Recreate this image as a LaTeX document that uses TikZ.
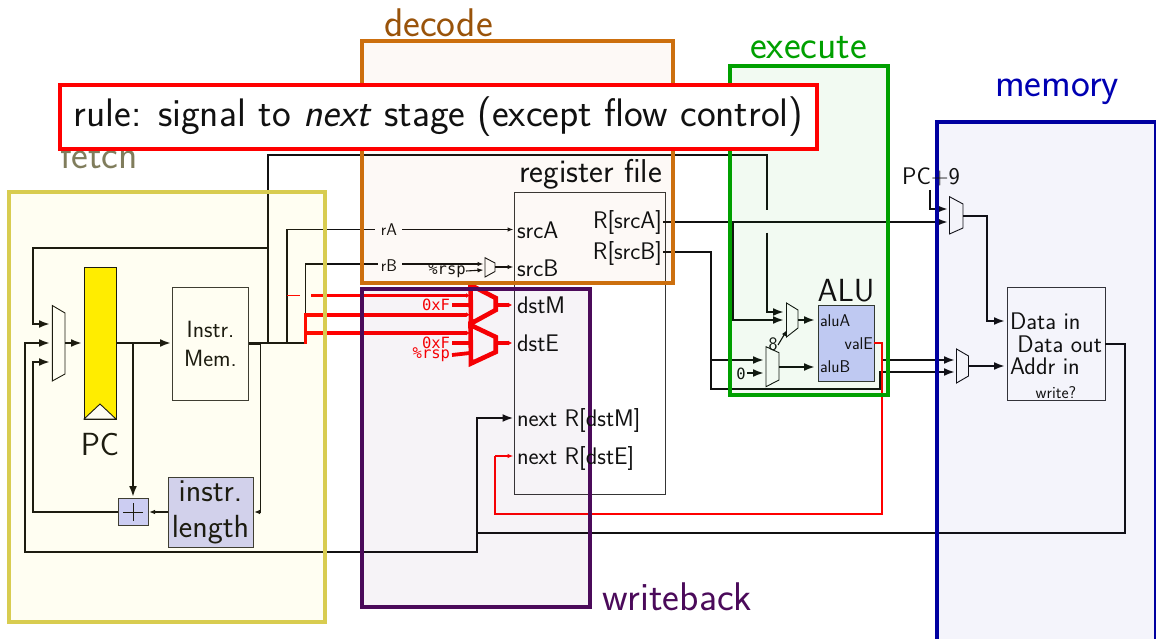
\documentclass[tikz,border=0pt]{standalone}
\usepackage{fontspec}
\newfontfamily\monof{DejaVu Sans Mono}
\usetikzlibrary{arrows.meta}
\definecolor{fetchc}{HTML}{D8CC50}
\definecolor{decodec}{HTML}{CC6F0E}
\definecolor{execc}{HTML}{00A000}
\definecolor{memc}{HTML}{0000A0}
\definecolor{wbc}{HTML}{4B0A5A}
\definecolor{blk}{HTML}{111111}
\definecolor{alufill}{HTML}{CACCFF}
\definecolor{lenfill}{HTML}{D0D0F8}
\tikzset{
  every node/.style={font=\sffamily, text=blk, inner sep=0pt, outer sep=0pt},
  wire/.style={draw=blk, line width=2.1pt, line join=miter},
  thin wire/.style={draw=blk, line width=1.1pt, line join=miter},
  arr/.style={-{Latex[length=11pt,width=8pt]}},
  sarr/.style={-{Latex[length=6pt,width=4.5pt]}},
  redthick/.style={draw=red, line width=3.8pt, line join=miter},
  redthin/.style={draw=red, line width=2pt, line join=miter},
  muxshape/.style={draw=blk, line width=0.9pt, fill=white, line join=miter},
  redmux/.style={draw=red, line width=4.6pt, line join=miter},
  block/.style={draw=blk!85, line width=0.9pt, anchor=north west},
  stagebox/.style={line width=4pt, line join=miter},
  f12/.style={font=\sffamily\fontsize{17}{19}\selectfont},
  f20/.style={font=\sffamily\fontsize{24}{28}\selectfont},
  f17/.style={font=\sffamily\fontsize{19}{21}\selectfont},
  f30/.style={font=\sffamily\fontsize{32}{36}\selectfont},
  fstage/.style={font=\sffamily\fontsize{40}{44}\selectfont},
  mono/.style={font=\monof\fontsize{15.5}{17}\selectfont},
}
\begin{document}
\begin{tikzpicture}[x=1pt,y=-1pt]
\useasboundingbox (0,0) rectangle (1156,639);
% blocks
\fill[yellow!95!orange] (84,267) rectangle (116,419);
\draw[blk,line width=.9pt,fill=white] (84,419) -- (100,404) -- (116,419) -- cycle;
\draw[blk,line width=.9pt] (84,267) rectangle (116,419);
\node (pcbox) at (100,343) {};
\node[f30] (pclabel) at (100,445) {PC};
\node[block,minimum width=76pt,minimum height=113pt,align=center,font=\sffamily\fontsize{23.5}{29}\selectfont] (imem) at (172.5,287) {Instr.\\Mem.};
\node[block,fill=lenfill,minimum width=85pt,minimum height=70pt,align=center,font=\sffamily\fontsize{32}{37}\selectfont] (ilen) at (168,477) {instr.\\[-1pt]length};
\node[block,fill=alufill,minimum width=30pt,minimum height=27pt] (adder) at (118,498) {};
\draw[blk,line width=.8pt] (123,512) -- (143,512) (133,503) -- (133,521);
\node[block,minimum width=151pt,minimum height=302pt] (regs) at (514,192) {};
\node[block,fill=alufill,minimum width=56pt,minimum height=75.5pt] (alu) at (818,305.5) {};
\node[block,minimum width=98pt,minimum height=113pt] (dmem) at (1007,287) {};
% multiplexers
\draw[muxshape] (52.3,305.5) -- (65,313) -- (65,374) -- (52.3,381) -- cycle;
\draw[muxshape] (485,257.7) -- (495,263) -- (495,271.5) -- (485,277) -- cycle;
\draw[muxshape] (786.5,303) -- (798,310) -- (798,328) -- (786.5,337) -- cycle;
\draw[muxshape] (766,346.7) -- (779,352.7) -- (779,380) -- (766,386.7) -- cycle;
\draw[muxshape] (949.5,196.7) -- (963,204) -- (963,228) -- (949.5,234) -- cycle;
\draw[muxshape] (956.5,349) -- (968.5,356) -- (968.5,376) -- (956.5,383) -- cycle;
% pins and bends
\coordinate (mA) at (50,324); \coordinate (mB) at (50,343); \coordinate (mC) at (50,362);
\coordinate (mO) at (65,343); \coordinate (pcI) at (82,343); \coordinate (pcO) at (116,343);
\coordinate (imI) at (171,343); \coordinate (imO) at (248.5,343);
\coordinate (j133) at (133,343); \coordinate (addT) at (133,497);
\coordinate (addL) at (118,512); \coordinate (addR) at (149,512); \coordinate (lenL) at (168,512);
\coordinate (lenR) at (254,512); \coordinate (j260) at (260.5,343);
\coordinate (j268) at (268,343); \coordinate (j287) at (287,343); \coordinate (j305) at (305.5,343);
\coordinate (srcAp) at (513.5,229.5); \coordinate (srcBp) at (513.5,267);
\coordinate (outAp) at (663,222); \coordinate (outBp) at (663,252);
\coordinate (nextM) at (513.5,418); \coordinate (nextE) at (513.5,456);
\coordinate (aluMa) at (784,312); \coordinate (aluMb) at (784,320);
\coordinate (aluMo) at (798,320); \coordinate (aluA) at (815,320);
\coordinate (bMa) at (764,360); \coordinate (bMb) at (764,373); \coordinate (bMo) at (779,367); \coordinate (aluB) at (815,367);
\coordinate (m1a) at (948,209); \coordinate (m1b) at (948,222); \coordinate (m1o) at (963,216);
\coordinate (m2a) at (955,360); \coordinate (m2b) at (955,372); \coordinate (m2o) at (968.5,366);
\coordinate (dIn) at (1005,321); \coordinate (aIn) at (1005,366); \coordinate (dOut) at (1105,344);
% black wires, fetch
\draw[wire] (j268) -- (268,155) -- (767,155) -- (767,210.5);
\draw[wire,arr] (767,232.5) |- (aluMa);
\draw[wire,arr] (268,248) -- (33,248) |- (mA);
\draw[wire,arr] (dOut) -| (1125,533) -- (477,533) -- (477,552) -- (25,552) |- (mB);
\draw[wire,arr] (addL) -| (33,430) |- (mC);
\draw[wire,arr] (mO) -- (pcI);
\draw[wire,arr] (pcO) -- (imI);
\draw[wire,arr] (j133) -- (addT);
\draw[draw=blk,line width=3pt] (imO) -- (260,343);
\draw[wire] (260,343) -- (j268);
\draw[thin wire,sarr] (j260) |- (lenR);
\draw[thin wire,sarr] (lenL) -- (addR);
\draw[thin wire] (j268) -- (j305);
% decode wires
\node[f12] (rA) at (389,229.5) {rA};
\node[f12] (rB) at (389,266) {rB};
\node[mono] (rsp) at (447,271) {\%rsp};
\draw[thin wire] (j287) |- (375,229.5);
\draw[thin wire,sarr] (402,229.5) -- (srcAp);
\draw[thin wire] (j305) |- (378,264);
\draw[thin wire,sarr] (402,264) -- (483.5,264);
\draw[thin wire,sarr] (466,271) -- (483.5,270);
\draw[thin wire,sarr] (495,267) -- (srcBp);
% red
\draw[redthin,line width=1pt] (287,295.5) -- (300,295.5);
\draw[redthick,-{Latex[length=4pt,width=5pt]}] (311,295.5) -- (470,295.5);
\draw[redthick,-{Latex[length=4pt,width=5pt]}] (305.5,344) -- (305.5,314.7) -- (470,314.7);
\draw[redthick,-{Latex[length=4pt,width=5pt]}] (305.5,333) -- (470,333);
\draw[redthick] (452,305) -- (470,305);
\draw[redthick] (452,343) -- (470,343);
\draw[redthick] (452,355) -- (470,353);
\draw[redmux] (470.5,285) -- (495.7,298) -- (495.7,310) -- (471,323.5) -- cycle;
\draw[redmux] (470.5,325) -- (495.7,337) -- (495.7,352) -- (471,363.5) -- cycle;
\draw[redthick,-{Latex[length=4pt,width=5pt]}] (495.7,305) -- (512,305);
\draw[redthick,-{Latex[length=4pt,width=5pt]}] (495.7,343) -- (512,343);
\node[mono,text=red,anchor=east] (f1) at (450,305) {0xF};
\node[mono,text=red,anchor=east] (f2) at (450,342.5) {0xF};
\node[mono,text=red,anchor=east] (rsp2) at (450,355) {\%rsp};
% execute and memory wires
\draw[wire,arr] (outAp) -- (m1b);
\draw[wire,arr] (733,222) |- (aluMb);
\draw[wire,arr] (outBp) -| (711,360) -- (bMa);
\draw[wire,arr] (711,360) |- (880,389) |- (m2b);
\draw[wire,arr] (882,360) -- (m2a);
\draw[wire,arr] (aluMo) -- (aluA);
\draw[wire,arr] (bMo) -- (aluB);
\node[mono] (zero) at (741,374) {0};
\draw[wire,arr] (747,373) -- (bMb);
\node[f17] (eight) at (773,344) {8};
\draw[thin wire,sarr] (778,345) -- (787,330);
\draw[redthin] (874,343) -| (882,514) -| (495,456);
\draw[redthin,sarr] (495,456) -- (nextE);
\draw[wire,arr] (477,533) |- (nextM);
\draw[wire,arr] (930,190) |- (m1a);
\draw[wire,arr] (m1o) -| (987,321) -- (dIn);
\draw[wire,arr] (m2o) -- (aIn);
% stages
\draw[stagebox,draw=fetchc,fill=yellow,fill opacity=.05] (9,192) rectangle (325,622);
\draw[stagebox,draw=decodec,fill=decodec,fill opacity=.04] (362,41) rectangle (673,283);
\draw[stagebox,draw=execc,fill=execc,fill opacity=.05] (730,66) rectangle (888,395);
\draw[stagebox,draw=memc,fill=memc,fill opacity=.045] (937,122) rectangle (1156,650);
\draw[stagebox,draw=wbc,fill=wbc,fill opacity=.05] (362,289) rectangle (590,607);
% labels
\node[fstage,text=decodec!75!black,anchor=base west] (ldec) at (384,37) {decode};
\node[fstage,text=execc,anchor=base west] (lexe) at (750,59) {execute};
\node[fstage,anchor=base west,text=blue!70!black] (lmem) at (995,97) {memory};
\node[fstage,text=wbc,anchor=base west] (lwb) at (602,610) {writeback};
\node[fstage,text=black!60!yellow!70!gray,anchor=base west] (lfet) at (60,169) {fetch};
\node[font=\sffamily\fontsize{33}{36}\selectfont,anchor=base east] (lreg) at (662,183) {register file};
\node[f20,anchor=base west] at (517,238) {srcA};
\node[f20,anchor=base west] at (517,276) {srcB};
\node[f20,anchor=base west] at (517,313) {dstM};
\node[f20,anchor=base west] at (517,351) {dstE};
\node[f20,anchor=base west] at (517,426) {next R[dstM]};
\node[f20,anchor=base west] at (517,464) {next R[dstE]};
\node[f20,anchor=base east] at (662,229) {R[srcA]};
\node[f20,anchor=base east] at (662,259) {R[srcB]};
\node[f30,anchor=base] (lalu) at (846,301) {ALU};
\node[f12,anchor=base west] at (820,326) {aluA};
\node[f12,anchor=base east] at (873,349) {valE};
\node[f12,anchor=base west] at (820,372) {aluB};
\node[f20,anchor=base] (pc9) at (931,185) {PC+9};
\node[f20,anchor=base west] at (1010,329) {Data in};
\node[f20,anchor=base east] at (1102,352) {Data out};
\node[f20,anchor=base west] at (1010,374) {Addr in};
\node[f12,anchor=base] at (1056,398) {write?};
% rule
\node[draw=red,line width=4.5pt,fill=white,anchor=north west,minimum width=757pt,minimum height=64pt,font=\sffamily\fontsize{39.8}{44}\selectfont] (rule) at (60,85) {rule: signal to \textit{next} stage (except flow control)};
\end{tikzpicture}
\end{document}
